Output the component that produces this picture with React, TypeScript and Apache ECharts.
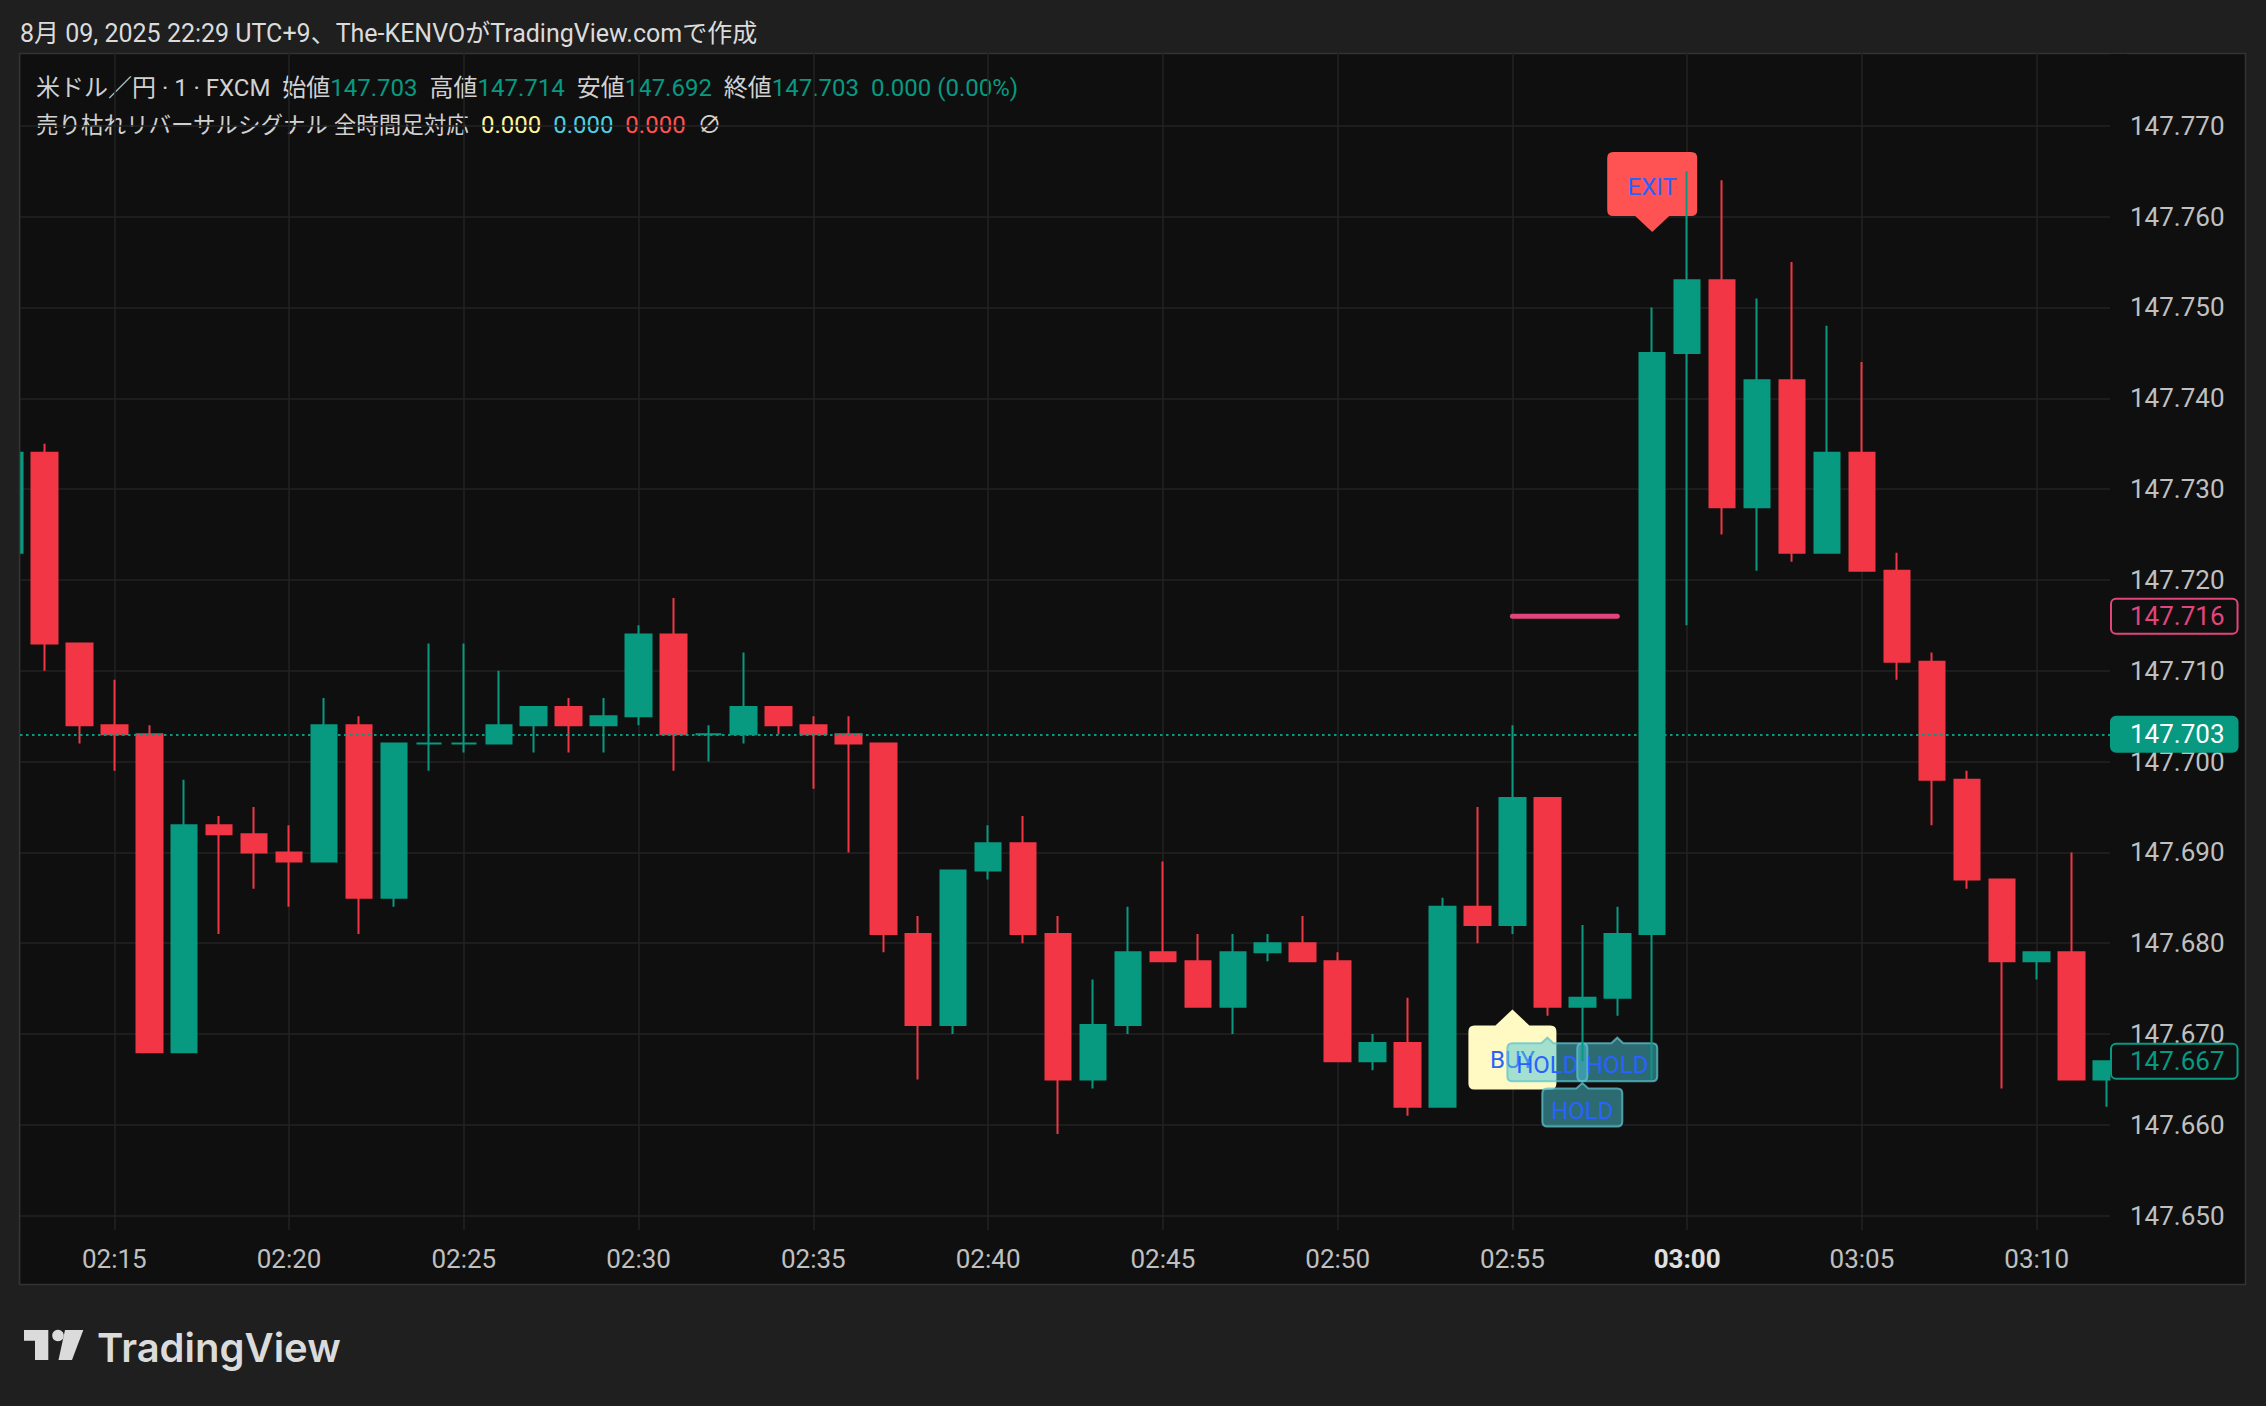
import React, { useEffect, useRef } from 'react';
import * as echarts from 'echarts';

// ---- data (minutes since 02:00, 1-minute candles) ----
const minutes = [12, 13, 14, 15, 16, 17, 18, 19, 20, 21, 22, 23, 24, 25, 26, 27, 28, 29, 30, 31, 32, 33, 34, 35, 36, 37, 38, 39, 40, 41, 42, 43, 44, 45, 46, 47, 48, 49, 50, 51, 52, 53, 54, 55, 56, 57, 58, 59, 60, 61, 62, 63, 64, 65, 66, 67, 68, 69, 70, 71, 72];
const opens = [147.723, 147.734, 147.713, 147.704, 147.703, 147.668, 147.693, 147.692, 147.690, 147.689, 147.704, 147.685, 147.702, 147.702, 147.702, 147.704, 147.706, 147.704, 147.705, 147.714, 147.703, 147.703, 147.706, 147.704, 147.703, 147.702, 147.681, 147.671, 147.688, 147.691, 147.681, 147.665, 147.671, 147.679, 147.678, 147.673, 147.679, 147.680, 147.678, 147.667, 147.669, 147.662, 147.684, 147.682, 147.696, 147.673, 147.674, 147.681, 147.745, 147.753, 147.728, 147.742, 147.723, 147.734, 147.721, 147.711, 147.698, 147.687, 147.678, 147.679, 147.665];
const closes = [147.734, 147.713, 147.704, 147.703, 147.668, 147.693, 147.692, 147.690, 147.689, 147.704, 147.685, 147.702, 147.702, 147.702, 147.704, 147.706, 147.704, 147.705, 147.714, 147.703, 147.703, 147.706, 147.704, 147.703, 147.702, 147.681, 147.671, 147.688, 147.691, 147.681, 147.665, 147.671, 147.679, 147.678, 147.673, 147.679, 147.680, 147.678, 147.667, 147.669, 147.662, 147.684, 147.682, 147.696, 147.673, 147.674, 147.681, 147.745, 147.753, 147.728, 147.742, 147.723, 147.734, 147.721, 147.711, 147.698, 147.687, 147.678, 147.679, 147.665, 147.667];
const lows = [147.722, 147.710, 147.702, 147.699, 147.668, 147.668, 147.681, 147.686, 147.684, 147.689, 147.681, 147.684, 147.699, 147.701, 147.702, 147.701, 147.701, 147.701, 147.704, 147.699, 147.700, 147.702, 147.703, 147.697, 147.690, 147.679, 147.665, 147.670, 147.687, 147.680, 147.659, 147.664, 147.670, 147.678, 147.673, 147.670, 147.678, 147.678, 147.667, 147.666, 147.661, 147.662, 147.680, 147.681, 147.672, 147.667, 147.672, 147.665, 147.715, 147.725, 147.721, 147.722, 147.723, 147.721, 147.709, 147.693, 147.686, 147.664, 147.676, 147.665, 147.662];
const highs = [147.735, 147.735, 147.713, 147.709, 147.704, 147.698, 147.694, 147.695, 147.693, 147.707, 147.705, 147.702, 147.713, 147.713, 147.710, 147.706, 147.707, 147.707, 147.715, 147.718, 147.704, 147.712, 147.706, 147.705, 147.705, 147.702, 147.683, 147.688, 147.693, 147.694, 147.683, 147.676, 147.684, 147.689, 147.681, 147.681, 147.681, 147.683, 147.679, 147.670, 147.674, 147.685, 147.695, 147.704, 147.696, 147.682, 147.684, 147.750, 147.765, 147.764, 147.751, 147.755, 147.748, 147.744, 147.723, 147.712, 147.699, 147.687, 147.679, 147.690, 147.667];

const xTickMinutes = [15, 20, 25, 30, 35, 40, 45, 50, 55, 60, 65, 70];
const yTicks = [147.65, 147.66, 147.67, 147.68, 147.69, 147.70, 147.71, 147.72, 147.73, 147.74, 147.75, 147.76, 147.77];

const lastPrice = 147.703;
const levelPrice = 147.716;
const lastClose = 147.667;
const levelMinutes = [55, 58];

const signalMinutes = [55, 56, 58, 57, 59];
const signalPrices = [147.6727, 147.6696, 147.6696, 147.6646, 147.7583];
const signalTexts = ['BUY', 'HOLD', 'HOLD', 'HOLD', 'EXIT'];

const headerText = '8月 09, 2025 22:29 UTC+9、The-KENVOがTradingView.comで作成';
const symbolText = '米ドル／円 · 1 · FXCM';
const ohlcNames = ['始値', '高値', '安値', '終値'];
const ohlcValues = ['147.703', '147.714', '147.692', '147.703'];
const changeText = '0.000 (0.00%)';
const indicatorName = '売り枯れリバーサルシグナル 全時間足対応';
const indicatorValues = ['0.000', '0.000', '0.000'];

const FONT = 'Roboto, "Noto Sans CJK JP", sans-serif';
const UP = '#089981';
const DOWN = '#F23645';
const PINK = '#E2457D';

type Spec = { w: number; h: number; r: number; pw: number; ph: number; dir: 'up' | 'down'; fill: string; stroke: string; lw: number; dy: number };
const specs: Record<string, Spec> = {
  BUY: { w: 88, h: 64, r: 6, pw: 34, ph: 16, dir: 'up', fill: '#FFF9C4', stroke: 'none', lw: 0, dy: 3 },
  HOLD: { w: 80, h: 38, r: 5, pw: 12, ph: 5.5, dir: 'up', fill: 'rgba(75,200,215,0.5)', stroke: 'rgba(95,195,205,0.75)', lw: 2, dy: 3 },
  EXIT: { w: 90, h: 64, r: 6, pw: 34, ph: 16, dir: 'down', fill: '#FF5252', stroke: 'none', lw: 0, dy: 3 },
};

function labelPath(cx: number, tipY: number, s: Spec) {
  const { w, h, r, pw, ph, dir } = s;
  const l = cx - w / 2;
  const rt = cx + w / 2;
  if (dir === 'up') {
    const t = tipY + ph;
    const b = t + h;
    return `M${l + r},${t} L${cx - pw / 2},${t} L${cx},${tipY} L${cx + pw / 2},${t} L${rt - r},${t} Q${rt},${t} ${rt},${t + r} L${rt},${b - r} Q${rt},${b} ${rt - r},${b} L${l + r},${b} Q${l},${b} ${l},${b - r} L${l},${t + r} Q${l},${t} ${l + r},${t} Z`;
  }
  const b = tipY - ph;
  const t = b - h;
  return `M${l + r},${t} L${rt - r},${t} Q${rt},${t} ${rt},${t + r} L${rt},${b - r} Q${rt},${b} ${rt - r},${b} L${cx + pw / 2},${b} L${cx},${tipY} L${cx - pw / 2},${b} L${l + r},${b} Q${l},${b} ${l},${b - r} L${l},${t + r} Q${l},${t} ${l + r},${t} Z`;
}

const fmtTime = (m: number) => {
  const h = 2 + Math.floor(m / 60);
  const mm = Math.round(m % 60);
  return `${String(h).padStart(2, '0')}:${String(mm).padStart(2, '0')}`;
};

export default function App() {
  const ref = useRef<HTMLDivElement>(null);
  useEffect(() => {
    document.body.style.margin = '0';
    const chart = echarts.init(ref.current!, null, { renderer: 'svg' });
    const axisLabelColor = '#c0c0c0';
    const priceTag = (border: string, bg: string, color: string) => ({
      show: true,
      position: 'end',
      distance: 2,
      formatter: (p: any) => Number(p.value).toFixed(3),
      color,
      backgroundColor: bg,
      borderColor: border,
      borderWidth: 2,
      borderRadius: 4,
      padding: [4, 12, 3, 18],
      fontSize: 26,
      lineHeight: 26,
      fontFamily: 'Roboto',
    });

    const lf = `24px ${FONT}`;
    const nf = `22.5px ${FONT}`;
    const legend1 =
      `{t|${symbolText}}  ` +
      ohlcNames.map((n, i) => `{t|${n}}{v|${ohlcValues[i]}}`).join('  ') +
      `  {v|${changeText}}`;
    const legend2 = `{n|${indicatorName}}  {y|${indicatorValues[0]}}  {c|${indicatorValues[1]}}  {r|${indicatorValues[2]}}  {t|∅}`;

    chart.setOption({
      animation: false,
      backgroundColor: '#1f1f1f',
      textStyle: { fontFamily: 'Roboto' },
      grid: { left: 20, right: 156, top: 53, bottom: 176, containLabel: false },
      xAxis: {
        type: 'value',
        min: 12.302,
        max: 72.097,
        axisLine: { show: false },
        axisTick: { show: false, customValues: xTickMinutes },
        axisLabel: {
          customValues: xTickMinutes,
          margin: 16,
          color: axisLabelColor,
          fontSize: 26,
          lineHeight: 26,
          fontFamily: 'Roboto',
          formatter: (v: number) => (Math.round(v) === 60 ? `{b|${fmtTime(v)}}` : fmtTime(v)),
          rich: { b: { fontWeight: 'bold', color: '#e0e0e0', fontSize: 26, lineHeight: 26, fontFamily: 'Roboto' } },
        },
        splitLine: { show: true, lineStyle: { color: '#232323', width: 1.5 } },
      },
      yAxis: {
        type: 'value',
        position: 'right',
        min: 147.64842,
        max: 147.77802,
        axisLine: { show: false },
        axisTick: { show: false, customValues: yTicks },
        axisLabel: {
          customValues: yTicks,
          margin: 20,
          color: axisLabelColor,
          fontSize: 26,
          fontFamily: 'Roboto',
          formatter: (v: number) => v.toFixed(3),
        },
        splitLine: { show: true, lineStyle: { color: '#232323', width: 1.5 } },
      },
      graphic: [
        { type: 'rect', z: -10, shape: { x: 19.5, y: 53.5, width: 2226, height: 1231 }, style: { fill: '#0f0f0f', stroke: '#333333', lineWidth: 1.5 } },
        // masks that cut the partly visible first and last candles at the plot edges
        { type: 'rect', z: 3.5, shape: { x: 0, y: 54, width: 19.5, height: 1176 }, style: { fill: '#1f1f1f' } },
        { type: 'line', z: 3.6, shape: { x1: 19.5, y1: 53.5, x2: 19.5, y2: 1284.5 }, style: { stroke: '#333333', lineWidth: 1.5 } },
        { type: 'rect', z: 3.5, shape: { x: 2110.5, y: 54, width: 16, height: 1176 }, style: { fill: '#0f0f0f' } },
        { type: 'text', x: 20, y: 33, style: { text: headerText, font: `25px ${FONT}`, fill: '#dbdbdb', verticalAlign: 'middle' } },
        {
          type: 'text', x: 36, y: 88,
          style: {
            text: legend1, font: lf, fill: '#d1d1d1', verticalAlign: 'middle',
            rich: { t: { font: lf, fill: '#d1d1d1' }, v: { font: lf, fill: UP } },
          },
        },
        {
          type: 'text', x: 36, y: 125,
          style: {
            text: legend2, font: lf, fill: '#d1d1d1', verticalAlign: 'middle',
            rich: { n: { font: nf, fill: '#d1d1d1' }, t: { font: lf, fill: '#d1d1d1' }, y: { font: lf, fill: '#FFF59D' }, c: { font: lf, fill: '#4DD0E1' }, r: { font: lf, fill: '#FF5252' } },
          },
        },
        { type: 'polygon', shape: { points: [[24, 1330], [48.3, 1330], [48.3, 1360], [35, 1360], [35, 1340.7], [24, 1340.7]] }, style: { fill: '#dbdbdb' } },
        { type: 'circle', shape: { cx: 58, cy: 1335.5, r: 5.8 }, style: { fill: '#dbdbdb' } },
        { type: 'polygon', shape: { points: [[65, 1330], [83.3, 1330], [72, 1360], [58.5, 1360]] }, style: { fill: '#dbdbdb' } },
        { type: 'text', x: 97, y: 1347, style: { text: 'TradingView', font: '600 40px Inter, Roboto, sans-serif', fill: '#dbdbdb', verticalAlign: 'middle' } },
      ],
      series: [
        {
          type: 'custom',
          z: 2,
          clip: false,
          data: signalMinutes.map((m, i) => [m, signalPrices[i], i]),
          encode: { x: 0, y: 1 },
          renderItem: (params: any, api: any) => {
            const idx = api.value(2) as number;
            const kind = signalTexts[idx];
            const s = specs[kind];
            const pt = api.coord([api.value(0), api.value(1)]);
            const cx = pt[0];
            const ty = pt[1];
            const boxTop = s.dir === 'up' ? ty + s.ph : ty - s.ph - s.h;
            return {
              type: 'group',
              children: [
                { type: 'path', shape: { pathData: labelPath(cx, ty, s) }, style: { fill: s.fill, stroke: s.stroke, lineWidth: s.lw } },
                { type: 'text', style: { text: kind, x: cx, y: boxTop + s.h / 2 + s.dy, align: 'center', verticalAlign: 'middle', fill: '#2962FF', font: '24px Roboto' } },
              ],
            };
          },
        },
        {
          type: 'candlestick',
          z: 3,
          clip: true,
          barWidth: 26,
          data: minutes.map((m, i) => [m, opens[i], closes[i], lows[i], highs[i]]),
          encode: { x: 0, y: [1, 2, 3, 4] },
          itemStyle: {
            color: UP,
            color0: DOWN,
            borderColor: UP,
            borderColor0: DOWN,
            borderColorDoji: UP,
            borderWidth: 2,
          },
        },
        {
          type: 'line',
          z: 4,
          clip: false,
          symbol: 'none',
          silent: true,
          data: levelMinutes.map((m) => [m, levelPrice]),
          lineStyle: { color: PINK, width: 5, cap: 'round' },
          markLine: {
            silent: true,
            precision: 3,
            symbol: ['none', 'none'],
            data: [
              { yAxis: lastPrice, lineStyle: { color: UP, width: 2, type: [2.5, 3.5] }, label: priceTag(UP, UP, '#ffffff') },
              { yAxis: levelPrice, lineStyle: { color: 'rgba(0,0,0,0)', width: 0 }, label: priceTag(PINK, '#0f0f0f', PINK) },
              { yAxis: lastClose, lineStyle: { color: 'rgba(0,0,0,0)', width: 0 }, label: priceTag(UP, '#0f0f0f', UP) },
            ],
          },
        },
      ],
    });
    return () => chart.dispose();
  }, []);
  return <div ref={ref} style={{ width: 2266, height: 1406 }} />;
}
